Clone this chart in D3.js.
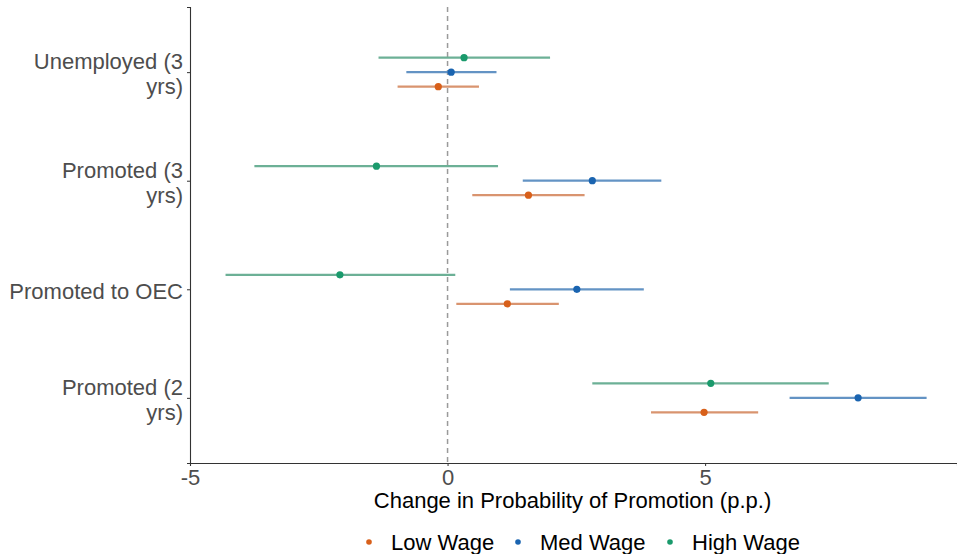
<!DOCTYPE html>
<html>
<head>
<meta charset="utf-8">
<script src="https://cdn.jsdelivr.net/npm/d3@7"></script>
<style>
  body { margin: 0; background: #fff; }
  text { font-family: "Liberation Sans", Arial, sans-serif; }
</style>
</head>
<body>
<div id="chart"></div>
<script>
// outcome categories, top to bottom
const outcomes = ["Unemployed (3 yrs)", "Promoted (3 yrs)", "Promoted to OEC", "Promoted (2 yrs)"];
const outcomeLines = [["Unemployed (3", "yrs)"], ["Promoted (3", "yrs)"], ["Promoted to OEC"], ["Promoted (2", "yrs)"]];
const wages = ["Low Wage", "Med Wage", "High Wage"];
const xTicks = [-5, 0, 5];

// estimates per wage group, in outcome order
const lowEst = [-0.18, 1.57, 1.16, 4.98];
const lowLo = [-0.97, 0.48, 0.17, 3.95];
const lowHi = [0.61, 2.66, 2.16, 6.03];

const medEst = [0.07, 2.81, 2.51, 7.97];
const medLo = [-0.80, 1.46, 1.21, 6.64];
const medHi = [0.95, 4.15, 3.81, 9.30];

const highEst = [0.32, -1.38, -2.09, 5.11];
const highLo = [-1.34, -3.75, -4.31, 2.81];
const highHi = [1.99, 0.98, 0.15, 7.40];

const colors = { "Low Wage": "#d8601a", "Med Wage": "#1a64b0", "High Wage": "#1a9a6c" };
const barColors = { "Low Wage": "#d9946f", "Med Wage": "#6393c4", "High Wage": "#6cb096" };

// build rows
const rows = [];
outcomes.forEach(function (o, i) {
  rows.push({ outcome: o, wage: "Low Wage", est: lowEst[i], lo: lowLo[i], hi: lowHi[i] });
  rows.push({ outcome: o, wage: "Med Wage", est: medEst[i], lo: medLo[i], hi: medHi[i] });
  rows.push({ outcome: o, wage: "High Wage", est: highEst[i], lo: highLo[i], hi: highHi[i] });
});

const W = 957, H = 554;
const plot = { left: 190, right: 957, top: 7, bottom: 463 };

const svg = d3.select("#chart").append("svg")
  .attr("width", W)
  .attr("height", H);

const x = d3.scaleLinear().domain([-5, 9.89]).range([plot.left, plot.right]);
const y = d3.scalePoint().domain(outcomes).range([plot.top, plot.bottom]).padding(0.6);
// dodge within a category
const dodge = d3.scalePoint().domain(["High Wage", "Med Wage", "Low Wage"]).range([-14.5, 14.5]);

// zero reference line
svg.append("line")
  .attr("x1", x(0)).attr("x2", x(0))
  .attr("y1", plot.top).attr("y2", plot.bottom)
  .attr("stroke", "#9a9a9a")
  .attr("stroke-width", 1.5)
  .attr("stroke-dasharray", "5,4");

// error bars
svg.append("g")
  .selectAll("line")
  .data(rows)
  .enter()
  .append("line")
  .attr("x1", function (d) { return x(d.lo); })
  .attr("x2", function (d) { return x(d.hi); })
  .attr("y1", function (d) { return y(d.outcome) + dodge(d.wage); })
  .attr("y2", function (d) { return y(d.outcome) + dodge(d.wage); })
  .attr("stroke", function (d) { return barColors[d.wage]; })
  .attr("stroke-width", 2.2);

// points
svg.append("g")
  .selectAll("circle")
  .data(rows)
  .enter()
  .append("circle")
  .attr("cx", function (d) { return x(d.est); })
  .attr("cy", function (d) { return y(d.outcome) + dodge(d.wage); })
  .attr("r", 3.6)
  .attr("fill", function (d) { return colors[d.wage]; });

// x axis
const xAxis = svg.append("g")
  .attr("transform", `translate(0, ${plot.bottom})`)
  .call(d3.axisBottom(x).tickValues(xTicks).tickSize(3).tickPadding(3).tickFormat(d3.format("d")));
xAxis.select(".domain").attr("stroke", "#333").attr("stroke-width", 1.1);
xAxis.selectAll(".tick line").attr("stroke", "#333");
xAxis.selectAll(".tick text")
  .attr("fill", "#4d4d4d")
  .style("font-size", "22px")
  .text(function (d) { return d < 0 ? "-" + Math.abs(d) : d; });

// y axis
const yAxis = svg.append("g")
  .attr("transform", `translate(${plot.left}, 0)`)
  .call(d3.axisLeft(y).tickSize(3).tickFormat(""));
yAxis.select(".domain").attr("stroke", "#333").attr("stroke-width", 1.1);
yAxis.selectAll(".tick line").attr("stroke", "#333");

// multi-line category labels
svg.append("g")
  .selectAll("text")
  .data(outcomes)
  .enter()
  .append("text")
  .attr("text-anchor", "end")
  .attr("fill", "#4d4d4d")
  .style("font-size", "22px")
  .each(function (d, i) {
    const lines = outcomeLines[i];
    const t = d3.select(this);
    const cy = y(d) + 2;
    lines.forEach(function (ln, j) {
      t.append("tspan")
        .attr("x", plot.left - 7)
        .attr("y", cy + (j - (lines.length - 1) / 2) * 25)
        .attr("dy", "0.35em")
        .text(ln);
    });
  });

// x axis title
svg.append("text")
  .attr("x", (plot.left + 955) / 2)
  .attr("y", 508)
  .attr("text-anchor", "middle")
  .attr("fill", "#000")
  .style("font-size", "22px")
  .text("Change in Probability of Promotion (p.p.)");

// legend
const legendX = [369, 518, 670];
const legend = svg.append("g")
  .selectAll("g")
  .data(wages)
  .enter()
  .append("g")
  .attr("transform", function (d, i) { return `translate(${legendX[i]}, 542)`; });
legend.append("circle")
  .attr("r", 2.8)
  .attr("fill", function (d) { return colors[d]; });
legend.append("text")
  .attr("x", 22)
  .attr("dy", "0.35em")
  .attr("fill", "#000")
  .style("font-size", "22px")
  .text(function (d) { return d; });
</script>
</body>
</html>
